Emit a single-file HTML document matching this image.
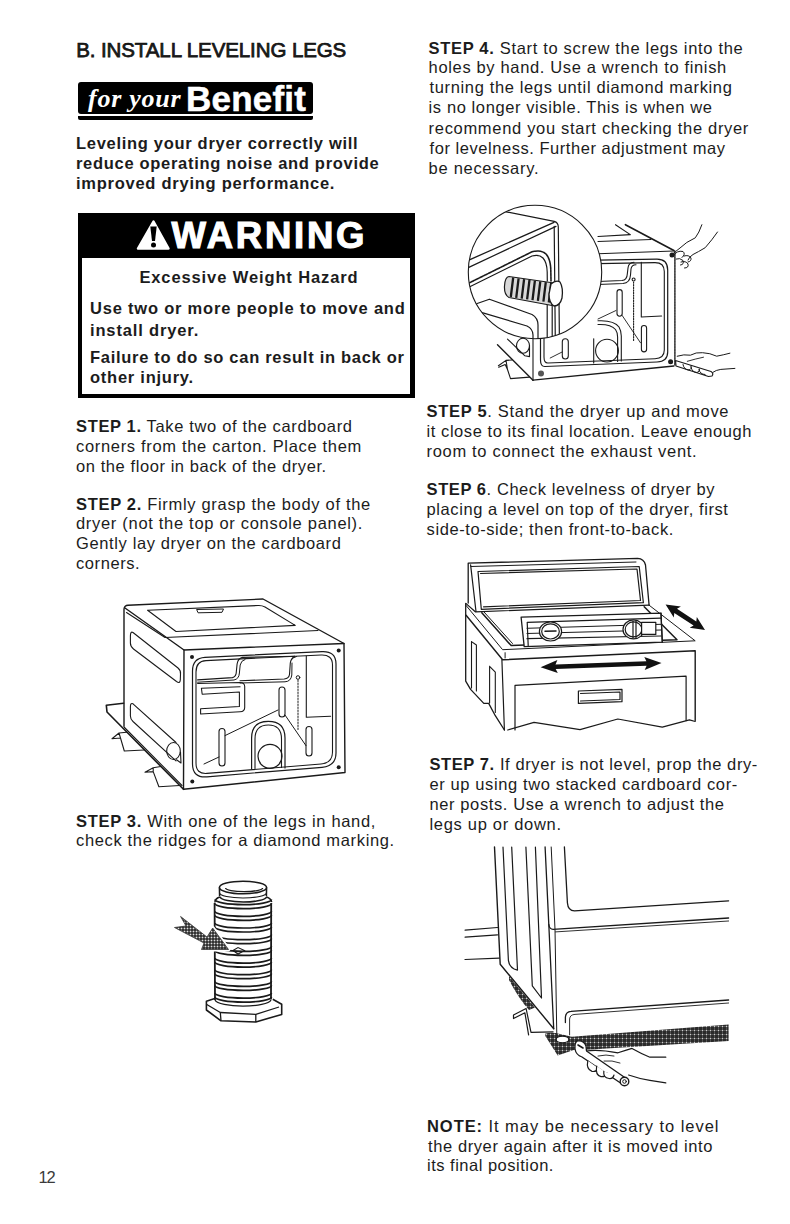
<!DOCTYPE html>
<html><head><meta charset="utf-8"><style>
html,body{margin:0;padding:0;background:#fff;width:790px;height:1224px;overflow:hidden}
body{position:relative;font-family:"Liberation Sans",sans-serif;color:#1c1c1c}
.ln{position:absolute;white-space:nowrap;line-height:1}
.ln b{font-weight:700}
svg{position:absolute;overflow:visible}
</style></head><body>
<div style="position:absolute;left:78px;top:81.7px;width:235px;height:32px;background:#000;border-radius:3px"></div>
<div style="position:absolute;left:78px;top:115.8px;width:235px;height:4px;background:#000;border-radius:0 0 2px 2px"></div>
<div id="fy" class="ln" style="left:88px;top:86px;font-family:'Liberation Serif',serif;font-style:italic;font-weight:700;font-size:26px;letter-spacing:0.75px;color:#fff">for your</div>
<div id="bn" class="ln" style="left:186px;top:80.8px;font-weight:700;font-size:35px;color:#fff;letter-spacing:0.2px;-webkit-text-stroke:0.5px #fff">Benefit</div>

<div style="position:absolute;left:77.6px;top:213px;width:337.4px;height:184.6px;box-sizing:border-box;border:4px solid #000;border-right-width:5px;border-top:0"></div>
<div style="position:absolute;left:77.6px;top:213px;width:337.4px;height:45px;background:#000"></div>
<svg style="left:0;top:0" width="790" height="400" viewBox="0 0 790 400">
<path d="M153.5 221.5 L168.5 248.5 L138 248.5 Z" fill="#fff" stroke="#fff" stroke-width="2.5" stroke-linejoin="round"/>
<path d="M150.3 226.5 L156.7 226.5 L155 241 L152 241 Z" fill="#000"/>
<circle cx="153.5" cy="245" r="2.5" fill="#000"/>
</svg>
<div id="wn" class="ln" style="left:171.5px;top:218.3px;font-weight:700;font-size:36.5px;color:#fff;letter-spacing:2.75px;-webkit-text-stroke:1.1px #fff">WARNING</div>

<svg style="left:0;top:0" width="790" height="1224" viewBox="0 0 790 1224">
<g fill="none" stroke="#1a1a1a" stroke-width="1.4" stroke-linejoin="round" stroke-linecap="round">
<!-- top face -->
<path d="M124,726.6 L124,609 Q124.5,605.5 128,605.3 L263,599 L344,643.5 L345,772.5 L183.5,789.3"/>
<path d="M125,608 L184,650 L344,643.5"/>
<path d="M184,650 L183.5,789.3"/>
<path d="M126.5,612.5 L165,637.5 L318,630.5" stroke-width="1.1"/>
<!-- lid -->
<path d="M147.6,610.2 L258,605.5 Q262,605.3 265,607 L295.2,625.4 L176,631.5 Z" stroke-width="1.1"/>
<path d="M197,609.5 L223.5,609 L222,612.3 L198.5,612.8 Z" stroke-width="1"/>
<!-- side recesses -->
<path d="M133,632.5 L178,668 Q181,670.5 180.5,674 L180.3,680 Q180,684 176.5,681.5 L133.5,649 Q130.4,646.7 130.4,643 L130.4,636 Q130.4,631 133,632.5 Z" stroke-width="1.1"/>
<path d="M133,703.8 L176,742.5 M130.4,707 Q130.4,702.5 133,703.8 M130.4,707 L130.4,716 Q130.4,719 133,721.5 L176,760.8" stroke-width="1.1"/>
<ellipse cx="173.5" cy="751" rx="6.8" ry="8.5" stroke-width="1.1"/>
<path d="M176.5,759.8 L181,763 L180.5,752" stroke-width="1.1"/>
<!-- cardboard strip -->
<path d="M123.5,703.2 L106.3,705.2 L107,712 L183.5,789.3" stroke-width="1.6"/>
<path d="M124.5,727.5 L182,785.5" stroke-width="1.1"/>
<!-- cardboard corners -->
<path d="M126.6,732.3 L119,733 L112,738.7 L120.5,738 L124.3,751 L144.3,750 M119,733 L120.5,738" stroke-width="1.1"/>
<path d="M160.8,766.5 L153.2,767.8 L145,772.2 L153.2,771.6 L158.9,786.8 L179.7,785.5 M153.2,767.8 L153.2,771.6" stroke-width="1.1"/>
<!-- front frame -->
<path d="M192.5,671 Q192.5,658 205,657.3 L322,651.6 Q336,651 336,664 L336,753 Q336,766 322,767.3 L207,776.8 Q192.5,778 192.5,764 Z" stroke-width="1.2"/>
<path d="M196,672 Q196,661 206,660.6 L321,655 Q332.5,654.5 332.5,665 L332.5,752 Q332.5,763 321,764 L207,773.4 Q196,774.3 196,763 Z" stroke-width="1.1"/>
<!-- rib -->
<path d="M197.6,679.9 L232.5,677.6 Q236.3,676.5 236.3,672 L237.1,664 Q238,658.5 242.4,657.4 L294.8,656.2 Q290.8,658.5 290.3,663 L289.5,674.5 Q289,678.5 284.2,679 L240,680.8" stroke-width="1.1"/>
<path d="M197.6,682.2 L234,680 Q239,679 239.4,673 L240.2,665 Q241,660.5 245,659.5 M292,659 Q293,657.5 296.5,656.5 M292,663 L291.8,675 Q291,681.5 285,681.8 L240.1,683" stroke-width="1"/>
<!-- pockets -->
<path d="M197.6,683.5 L240.1,682.5 Q244.7,682.7 244.7,686.5 L244.7,707.5 Q244.7,711.5 240,711.8 L200.6,714 L200.6,708.8 L239.4,706.5 L239.4,692 L202.2,694.3 L201.4,688.3 L240.1,686.7" stroke-width="1.1"/>
<!-- right region -->
<path d="M306.3,656 L306.3,717.3 L330.6,716.3" stroke-width="1.1"/>
<path d="M298,680 L298,730" stroke-width="1" stroke-dasharray="1.5 1.5"/>
<circle cx="298" cy="677.5" r="1.8" stroke-width="1"/>
<!-- pills -->
<rect x="279" y="687" width="6" height="30" rx="3" stroke-width="1.1"/>
<rect x="219" y="728.5" width="6" height="37.5" rx="3" stroke-width="1.1"/>
<rect x="306" y="726.5" width="6" height="29.5" rx="3" stroke-width="1.1"/>
<!-- thin lines -->
<path d="M204,764 L219,757 M225,735.6 L278,710 M285,715 L306,745.7" stroke-width="1"/>
<!-- arch -->
<path d="M251.6,769 L251.6,738 Q251.6,721.4 268.3,721.4 Q285,721.4 285,738 L285,768" stroke-width="1.2"/>
<path d="M255,768.5 L255,739 Q255,725 268.3,725 Q281.5,725 281.5,739 L281.5,767.5" stroke-width="1.1"/>
<circle cx="270" cy="756.3" r="12" stroke-width="1.2"/>
</g>
<g fill="#1a1a1a">
<circle cx="192" cy="657" r="2"/><circle cx="338.7" cy="650.4" r="2"/><circle cx="192.3" cy="781.5" r="2"/><circle cx="338.7" cy="767.2" r="2"/>
</g>
</svg>

<svg style="left:0;top:0" width="790" height="1224" viewBox="0 0 790 1224">
<defs><pattern id="ht2" width="3" height="3" patternUnits="userSpaceOnUse"><rect width="3" height="3" fill="#333"/><rect x="1" y="0" width="1" height="3" fill="#666"/><rect x="0" y="1" width="3" height="1" fill="#666"/><rect x="1" y="1" width="1" height="1" fill="#ddd"/></pattern></defs>
<g fill="none" stroke="#1a1a1a" stroke-width="1.5" stroke-linejoin="round">
<!-- cap -->
<ellipse cx="243" cy="887.5" rx="23.6" ry="6.3"/>
<path d="M225.6,888 A18.5,3.6 0 0 0 262.6,888" stroke-width="1.3"/>
<path d="M219.4,887.5 L219.6,896 M266.6,887.5 L266.4,896"/>
<path d="M219.6,893 A23.4,5 0 0 0 266.4,893" stroke-width="1.2"/>
<path d="M214.8,902.5 Q215.5,898 220,897 A23.4,5.5 0 0 0 266.6,897 Q271,898.5 271.7,902"/>
<path d="M214.6,903 L215,1000 M271.2,903 L271,999.5" stroke-width="1.8"/>
<path d="M215.0,899.6 A28.2,5 0 0 0 271.5,899.6" stroke-width="1.7"/>
<path d="M215.0,903.6 A28.2,5 0 0 0 271.5,903.6" stroke-width="1.7"/>
<path d="M215.0,911.3 A28.2,5 0 0 0 271.5,911.3" stroke-width="1.7"/>
<path d="M215.0,915.3 A28.2,5 0 0 0 271.5,915.3" stroke-width="1.7"/>
<path d="M215.0,923.0 A28.2,5 0 0 0 271.5,923.0" stroke-width="1.7"/>
<path d="M215.0,927.0 A28.2,5 0 0 0 271.5,927.0" stroke-width="1.7"/>
<path d="M215.0,934.7 A28.2,5 0 0 0 271.5,934.7" stroke-width="1.7"/>
<path d="M215.0,938.7 A28.2,5 0 0 0 271.5,938.7" stroke-width="1.7"/>
<path d="M215.0,946.4 A28.2,5 0 0 0 271.5,946.4" stroke-width="1.7"/>
<path d="M215.0,950.4 A28.2,5 0 0 0 271.5,950.4" stroke-width="1.7"/>
<path d="M215.0,958.1 A28.2,5 0 0 0 271.5,958.1" stroke-width="1.7"/>
<path d="M215.0,962.1 A28.2,5 0 0 0 271.5,962.1" stroke-width="1.7"/>
<path d="M215.0,969.7 A28.2,5 0 0 0 271.5,969.7" stroke-width="1.7"/>
<path d="M215.0,973.7 A28.2,5 0 0 0 271.5,973.7" stroke-width="1.7"/>
<path d="M215.0,981.4 A28.2,5 0 0 0 271.5,981.4" stroke-width="1.7"/>
<path d="M215.0,985.4 A28.2,5 0 0 0 271.5,985.4" stroke-width="1.7"/>
<path d="M215.0,993.1 A28.2,5 0 0 0 271.5,993.1" stroke-width="1.7"/>
<path d="M215.0,997.1 A28.2,5 0 0 0 271.5,997.1" stroke-width="1.7"/>
<!-- hex nut -->
<path d="M214.8,998.6 L206.4,1001.2 L206.4,1010 L221,1020.8 L255.8,1022 L281.7,1014.4 L281.7,1004.3 L272.8,999.2" stroke-width="1.6"/>
<path d="M206.8,1004.5 L220.3,1012.5 L255.8,1014.4 L279,1007" stroke-width="1.3"/>
<path d="M220.3,1012.5 L221,1020.8 M255.8,1014.4 L255.8,1022" stroke-width="1.3"/>
<path d="M215,1000 A28.2,7 0 0 0 271,1000" stroke-width="1.3"/>
</g>
<!-- arrow -->
<path d="M180.6,916.5 L207,937 L212.7,928 L228.5,949.5 L201.5,949.5 L204,943 L174.5,927.5 L186,926 Z" fill="#fff" stroke="#fff" stroke-width="4" stroke-linejoin="round"/>
<path d="M180.6,916.5 L207,937 L212.7,928 L228.5,949.5 L201.5,949.5 L204,943 L174.5,927.5 L186,926 Z" fill="url(#ht2)" stroke="#333" stroke-width="0.8"/>
<path d="M233,950.5 L238,947.5 L244.5,950.5 L238,954 Z" fill="none" stroke="#1a1a1a" stroke-width="1.1"/>
</svg>
<svg style="left:0;top:0" width="790" height="1224" viewBox="0 0 790 1224">
<defs><clipPath id="mag"><circle cx="535" cy="272" r="66.7"/></clipPath></defs>
<g fill="none" stroke="#1a1a1a" stroke-width="1.1" stroke-linejoin="round" stroke-linecap="round">
<!-- outside: top of dryer -->
<path d="M625.4,224.7 L673.9,250.5" stroke-width="1.6"/>
<path d="M615.5,224.7 L630.3,234.6 L598,236.5"/>
<path d="M598,241.5 L650.9,239.5"/>
<path d="M598,253.8 L673.9,251"/>
<path d="M674.9,251 L674.9,365.5" stroke-width="1.4" stroke-dasharray="2 0.8"/>
<!-- frame -->
<path d="M598,260.2 L657,259.2 Q667.7,259.2 667.7,270 L667.7,352 Q667.7,361.5 657,362 L545,366.5 Q540.5,366.7 540.5,360 L540.5,338" stroke-width="1.2"/>
<path d="M598,263.6 L655,262.6 Q664.3,262.6 664.3,271.5 L664.3,350 Q664.3,358.3 655,358.7 L548,363 Q544,363.2 544,357 L544,338"/>
<!-- rib -->
<path d="M598,281.5 L622,280.5 Q627,280 627.3,274 L628,268 Q628.5,262.5 634,262.3"/>
<path d="M598,284.5 L623,283.5 Q630,283 630.5,275 L631,269 Q631.5,265 636,264.8"/>
<path d="M641.3,262.3 L641.3,317 L661.6,316"/>
<path d="M633.6,282 L633.6,340.7" stroke-dasharray="1.3 1.3"/>
<circle cx="633.6" cy="279.5" r="1.5"/>
<rect x="617" y="289.6" width="5.2" height="26.6" rx="2.6"/>
<rect x="641.4" y="325.5" width="5.2" height="26.4" rx="2.6"/>
<path d="M598,319 L616,310.5 M622.2,315.5 L640.5,342.8" stroke-width="0.9"/>
<path d="M598,320.8 Q614,320 619,327 Q621.3,331 621.3,336 L621.3,361" />
<path d="M598,324.5 Q611,324 615.5,329.5 Q617.6,332.5 617.6,337 L617.6,361.5"/>
<circle cx="607" cy="350.6" r="11.4"/>
<path d="M593.7,338.7 L593.7,363"/>
<rect x="562.3" y="338.7" width="6" height="20.3" rx="3"/>
<path d="M550.2,358 L562.3,351.9" stroke-width="0.9"/>
<!-- bottom edge -->
<path d="M533,380.2 L673.9,366" stroke-width="1.3"/>
<path d="M533,338.7 L533,380.2" />
<path d="M497.5,344.8 L533,380.2" stroke-width="1.4"/>
<path d="M507.5,339.1 L524.9,355.8 L529.5,356.6 L529.5,345.2"/>
<ellipse cx="523" cy="345.8" rx="6.5" ry="7.5"/>
<path d="M498.4,365.7 L506,360.4 L512,360 M498.7,367.2 L505.2,364.5 L507.5,369.5 L510.5,378.6 L529.5,377.1 M506,360.4 L507.5,369.5"/>
<!-- hand top -->
<path d="M701.9,224.7 Q699,233 695.3,237.8 Q686,242 680,248 Q675,252 672.5,254" stroke-width="1"/>
<path d="M717.5,232 Q712,240 705.2,247.7 Q698,252 693,254.5 Q689,257 688,260" stroke-width="1"/>
<path d="M673,256 Q677,250 683,251.5 Q686,254 682,257.5 M676,259 Q680,257.5 683,260.5 Q684.5,264.5 680.5,265 M681,262 Q686,260.5 688,264 Q689,268 684.5,268 M684,256 Q689,254.5 691,258 Q691.5,261.5 688,262" stroke-width="1"/>
<!-- hand bottom with wrench -->
<path d="M677.2,356.2 Q684,354 690.4,355.2 Q696,352 702.5,352.7 Q710,353 716.7,356.2 Q723,355 729.9,353.2" stroke-width="1"/>
<path d="M712.7,372.4 Q716,370 720.8,369.4 L734.9,368.4" stroke-width="1"/>
<path d="M675.5,360.5 L711,371.5 Q714,373.5 712,376 L708.5,376.5 L676,366 Z" fill="#fff" stroke-width="1.2"/>
<path d="M683,364.5 Q684,370 689,370 Q692,369 691,366 M691,367 Q692,372.5 697,372.5 Q700,372 699.5,369 M699,369.5 Q700,374.5 705,374.5" stroke-width="1"/>
<path d="M687.3,361.3 Q695,359 703.5,357.2" stroke-width="0.9"/>
</g>
<g fill="#1a1a1a"><circle cx="541" cy="373.5" r="3" fill="#555"/><circle cx="670.6" cy="361.8" r="2.5"/><circle cx="672" cy="255" r="2.5"/></g>
<!-- magnifier -->
<circle cx="535" cy="272" r="66.7" fill="#fff" stroke="#1a1a1a" stroke-width="1.1"/>
<g clip-path="url(#mag)" fill="none" stroke="#1a1a1a" stroke-width="1.2" stroke-linejoin="round" stroke-linecap="round">
<path d="M503.6,211.3 L554.2,221.4 Q558.3,222.5 558.3,227 L559.4,340"/>
<path d="M554.2,226.4 L555.3,340"/>
<path d="M554,222.4 L460,264" stroke-width="1.3"/>
<path d="M556,226.4 L460,271.5"/>
<path d="M460,287.5 L532,251.8 Q541,249.5 546,254 Q550.5,259 550.8,270 L551,281" stroke-width="1.6" stroke-dasharray="2.5 0.7"/>
<path d="M460,291.5 L532,256 Q539,254 543,258 Q547,262.5 547.2,272 L547.3,281"/>
<path d="M470,306 L489.4,299.2 L532,314.5 Q538,318 538,325 L538,345"/>
<path d="M470,314.5 L481.3,312.4 L527,326 Q533,329 533,335 L533,345"/>
<path d="M547.2,305 L547.2,345 M552.2,305 L552.2,345"/>
</g>
<!-- leg in magnifier -->
<g stroke="#1a1a1a" stroke-linejoin="round">
<path d="M509,276.5 L554,283 L552,305.5 L509,297.5 Q504,295 504.5,286 Q505,277 509,276.5 Z" fill="#d8d8d8" stroke-width="1.2"/>
<path d="M513.2,277.5 L510.8,297.0 M518.6,278.3 L516.2,297.8 M524.1,279.1 L521.7,298.6 M529.5,279.9 L527.1,299.4 M534.9,280.6 L532.5,300.1 M540.3,281.4 L537.9,300.9 M545.8,282.2 L543.4,301.7 M551.2,283.0 L548.8,302.5" stroke-width="2.3" fill="none"/>
<path d="M551,284 Q556,279.5 560,282 Q563.5,288 562,298 Q560,306 554,306 Q549,303 549,294 Z" fill="#fff" stroke-width="1.3"/>
</g>
</svg>

<svg style="left:0;top:0" width="790" height="1224" viewBox="0 0 790 1224">
<g fill="none" stroke="#1a1a1a" stroke-width="1.2" stroke-linejoin="round" stroke-linecap="round">
<!-- console -->
<path d="M468.2,603 L468.2,563.2 L637.6,558.3 Q644,558.5 645.5,565 L649.1,605.2" stroke-width="1.3"/>
<path d="M470.6,564.9 L476,611.5"/>
<path d="M471,566.5 L636,562" stroke-width="1"/>
<path d="M478,571.5 L639.2,566.5 L643.4,602.7 L481.3,609.3 Z"/>
<path d="M480.5,573.5 L637,569 L640.5,600.5 L483.5,606.8"/>
<path d="M475.6,611.8 L649.1,605.2"/>
<!-- body top -->
<path d="M465.7,603.5 L465.7,681.1 L470.6,689.4 L483.8,703.4 L488.7,703.4 L495.3,715.7 L504.4,730" stroke-width="1.3"/>
<path d="M466.1,615.3 L502.6,659.8 L695.2,650.7 L695.2,720.6" stroke-width="1.4"/>
<path d="M466.1,605.5 L502.6,649.7 L695.2,640.8 L649.1,605.2" stroke-width="1"/>
<path d="M466.1,603.6 L475.3,611.7"/>
<path d="M481.8,612.7 L511.2,645.6 L677,639.7 L644.2,606.8" stroke-width="1.5"/>
<path d="M484.3,612.3 L512.5,643.5" stroke-width="1"/>
<path d="M505.1,652.7 L505.1,658" stroke-width="1"/>
<path d="M501.9,659.7 L504.4,730"/>
<!-- side recesses -->
<path d="M471.5,641.6 L476.4,645 L476.4,691 M471.5,641.6 L471.5,688" stroke-width="1.1"/>
<path d="M489.6,666.3 L495.3,672.1 L495.3,712.4 M489.6,666.3 L489.6,703" stroke-width="1.1"/>
<!-- drawer -->
<path d="M515,730 L515,685.3 L686.1,676.2 L686.1,720.6"/>
<path d="M578.4,691 L622,689.4 L622,701.7 L578.4,703.4 Z"/>
<path d="M580.5,693.5 L620,692 L620,699.5 L580.5,701"/>
<path d="M507.7,730 L534,722.3 L580,729.7 L617.8,719 L662.3,727.2 L689.4,719.8 L695.2,721.5"/>
<!-- level -->
<path d="M521.1,617.2 L661,613.2 L662.3,642.2 L524.2,646.6 Z" fill="#fff" stroke-width="1.3"/>
<path d="M527.2,622.3 L661,618.2 M528.2,645.6 L527.2,622.3 M527,638.7 L661,636"/>
<path d="M527,628.3 L661,624.3 M527,633.5 L661,630" stroke-width="1"/>
<ellipse cx="550.5" cy="631.4" rx="11.1" ry="9.6" fill="#fff"/>
<ellipse cx="550.5" cy="631.4" rx="8.8" ry="7.6"/>
<path d="M545,631.3 L556,631" stroke-width="1.5"/>
<ellipse cx="633.5" cy="629.4" rx="10.5" ry="9.5" fill="#fff"/>
<ellipse cx="633.5" cy="629.4" rx="8.3" ry="7.5"/>
<path d="M633,621 L633,638 M636,621 L636,638"/>
<rect x="641.6" y="622.3" width="14.2" height="12.1" fill="#fff"/>
<path d="M661,613.2 L662.3,642.2"/>
</g>
<!-- arrows -->
<g fill="#111">
<path d="M540.6,667.2 L557.8,673.1 L555.7,668.9 L646.6,665.8 L644.7,670.1 L661.5,663.0 L644.3,657.1 L646.4,661.3 L555.5,664.4 L557.4,660.1 Z"/>
<path d="M665.6,604.4 L673.8,617.5 L674.3,613.0 L693.6,625.6 L689.7,627.8 L705.0,630.0 L696.8,616.9 L696.3,621.4 L677.0,608.8 L680.9,606.6 Z"/>
</g>
</svg>

<svg style="left:0;top:0" width="790" height="1224" viewBox="0 0 790 1224">
<defs>
<pattern id="ht" width="4" height="4" patternUnits="userSpaceOnUse">
<rect width="4" height="4" fill="#2a2a2a"/><rect x="2" y="0" width="1" height="4" fill="#555"/><rect x="0" y="2" width="4" height="1" fill="#555"/><rect x="2" y="2" width="1" height="1" fill="#ccc"/>
</pattern>
</defs>
<!-- shadow -->
<path d="M545.3,1036 L557.7,1055.4 L573.7,1050.1 L590,1049.5 L728.6,1041 L728.6,1024.4 L571.9,1036.8 L560,1034 Q552,1032 545.3,1033.5 Z" fill="url(#ht)"/>
<path d="M509,976 L535,1007.5 L529,1010 Q519,999 509,980 Z" fill="url(#ht)"/>
<g fill="none" stroke="#1a1a1a" stroke-width="1.2" stroke-linejoin="round" stroke-linecap="round">
<path d="M494.5,847 L500.2,964.3 L553.7,1028.7" stroke-width="1.4"/>
<path d="M503,847 L508.4,960.3 Q509.5,968.4 517.5,970.2 L511.7,847" />
<path d="M525.9,847 L532.3,985.8 L541.5,998 L535.4,847"/>
<path d="M545.1,847 L548.8,924.5 Q549.5,929.4 553.1,929.4 L728.6,918" stroke-width="1.3"/>
<path d="M548.8,924.5 L553.7,1028.7" stroke-width="1.3"/>
<path d="M551.2,847 L555,929.4 L556.8,1034.9" stroke-width="1"/>
<path d="M555.5,931.9 L728.6,921" stroke-width="0.9"/>
<path d="M564.4,847 L567.4,902.8 Q568,910.9 574.5,910.9 L728.6,900.8" stroke-width="1.3"/>
<path d="M465.1,930.1 L497.5,927.5 M465.1,937.2 L497.5,934.8"/>
<path d="M465,959.5 L499.2,958.2" />
<!-- bottom panel recess -->
<path d="M565.4,1022.6 L565.4,1017 Q566,1011.6 571,1011.4 L728.6,1000" stroke-width="1.3"/>
<path d="M569.6,1034.9 L569.6,1019 Q570,1014.6 575,1014.4 L728.6,1003" stroke-width="0.9"/>
<!-- cardboard post -->
<path d="M513.5,1015 L526.1,1008.5 L531,1032.4 L553.1,1031.8 M513.5,1018.5 L524.9,1012.8 L528.6,1034.9 M513.5,1015 L513.5,1018.5" fill="#fff"/>
<!-- foot -->

<ellipse cx="562.5" cy="1039.5" rx="6.3" ry="3.3" fill="#fff"/>
<!-- hand back -->
<path d="M586,1051 Q598,1049 618,1052.8 Q626,1050 632,1048.4 Q642,1054 649.9,1057.2 L665.8,1057.2" fill="#fff"/>
<path d="M628.6,1075 Q640,1079 649.9,1080.3 L665.8,1082.9"/>
<!-- wrench -->
<path d="M577,1041 Q584,1040 586,1046 L586.5,1051 L625.5,1078 L622,1084 L582,1057 Q576,1055 575,1049 Q574.5,1043 577,1041 Z" fill="#fff" stroke-width="1.3"/>
<path d="M578,1045 L583,1048" stroke-width="1.6"/>
<circle cx="624.5" cy="1081.5" r="4.3" fill="#fff" stroke-width="1.4"/>
<circle cx="624.5" cy="1081.5" r="1.8" stroke-width="1"/>
<!-- fingers -->
<path d="M587.8,1060.8 Q586,1069 592,1071.4 Q597,1072 598,1068" fill="#fff"/>
<path d="M596.7,1066 Q595,1075 601,1076.7 Q606,1077 607,1073" fill="#fff"/>
<path d="M603.8,1071.4 Q603,1078 609,1078.5 Q613,1079 614,1075" fill="#fff"/>
<path d="M598,1056 Q606,1054 614,1056 M604,1061 Q612,1060 620,1063" stroke-width="0.9"/>
</g>
</svg>

<div class="ln" style="left:76.20px;top:39.67px;font-size:20.5px;font-weight:400;letter-spacing:-0.096px;-webkit-text-stroke:0.75px #111">B. INSTALL LEVELING LEGS</div>
<div class="ln" style="left:76.00px;top:134.57px;font-size:16.5px;font-weight:700;letter-spacing:0.697px;">Leveling your dryer correctly will</div>
<div class="ln" style="left:76.00px;top:154.57px;font-size:16.5px;font-weight:700;letter-spacing:0.697px;">reduce operating noise and provide</div>
<div class="ln" style="left:76.00px;top:174.57px;font-size:16.5px;font-weight:700;letter-spacing:0.741px;">improved drying performance.</div>
<div class="ln" style="left:139.40px;top:269.38px;font-size:16.5px;font-weight:700;letter-spacing:0.891px;">Excessive Weight Hazard</div>
<div class="ln" style="left:90.00px;top:299.98px;font-size:16.5px;font-weight:700;letter-spacing:0.788px;">Use two or more people to move and</div>
<div class="ln" style="left:90.00px;top:321.98px;font-size:16.5px;font-weight:700;letter-spacing:0.846px;">install dryer.</div>
<div class="ln" style="left:90.00px;top:348.98px;font-size:16.5px;font-weight:700;letter-spacing:0.703px;">Failure to do so can result in back or</div>
<div class="ln" style="left:90.00px;top:368.98px;font-size:16.5px;font-weight:700;letter-spacing:0.75px;">other injury.</div>
<div class="ln" style="left:76.00px;top:417.58px;font-size:16.5px;font-weight:400;letter-spacing:0.647px;"><b>STEP 1.</b> Take two of the cardboard</div>
<div class="ln" style="left:76.00px;top:437.58px;font-size:16.5px;font-weight:400;letter-spacing:0.676px;">corners from the carton. Place them</div>
<div class="ln" style="left:76.00px;top:457.58px;font-size:16.5px;font-weight:400;letter-spacing:0.576px;">on the floor in back of the dryer.</div>
<div class="ln" style="left:76.00px;top:495.58px;font-size:16.5px;font-weight:400;letter-spacing:0.686px;"><b>STEP 2.</b> Firmly grasp the body of the</div>
<div class="ln" style="left:76.00px;top:515.38px;font-size:16.5px;font-weight:400;letter-spacing:0.694px;">dryer (not the top or console panel).</div>
<div class="ln" style="left:76.00px;top:535.38px;font-size:16.5px;font-weight:400;letter-spacing:0.625px;">Gently lay dryer on the cardboard</div>
<div class="ln" style="left:76.00px;top:555.38px;font-size:16.5px;font-weight:400;letter-spacing:0.571px;">corners.</div>
<div class="ln" style="left:76.00px;top:812.58px;font-size:16.5px;font-weight:400;letter-spacing:0.681px;"><b>STEP 3.</b> With one of the legs in hand,</div>
<div class="ln" style="left:76.00px;top:832.38px;font-size:16.5px;font-weight:400;letter-spacing:0.65px;">check the ridges for a diamond marking.</div>
<div class="ln" style="left:428.60px;top:39.58px;font-size:16.5px;font-weight:400;letter-spacing:0.677px;"><b>STEP 4.</b> Start to screw the legs into the</div>
<div class="ln" style="left:428.60px;top:59.38px;font-size:16.5px;font-weight:400;letter-spacing:0.65px;">holes by hand. Use a wrench to finish</div>
<div class="ln" style="left:429.60px;top:79.38px;font-size:16.5px;font-weight:400;letter-spacing:0.632px;">turning the legs until diamond marking</div>
<div class="ln" style="left:428.60px;top:99.47px;font-size:16.5px;font-weight:400;letter-spacing:0.594px;">is no longer visible. This is when we</div>
<div class="ln" style="left:428.60px;top:119.57px;font-size:16.5px;font-weight:400;letter-spacing:0.686px;">recommend you start checking the dryer</div>
<div class="ln" style="left:429.60px;top:139.57px;font-size:16.5px;font-weight:400;letter-spacing:0.539px;">for levelness. Further adjustment may</div>
<div class="ln" style="left:428.60px;top:159.97px;font-size:16.5px;font-weight:400;letter-spacing:0.7px;">be necessary.</div>
<div class="ln" style="left:426.60px;top:402.58px;font-size:16.5px;font-weight:400;letter-spacing:0.688px;"><b>STEP 5</b>. Stand the dryer up and move</div>
<div class="ln" style="left:426.60px;top:422.98px;font-size:16.5px;font-weight:400;letter-spacing:0.556px;">it close to its final location. Leave enough</div>
<div class="ln" style="left:426.60px;top:442.58px;font-size:16.5px;font-weight:400;letter-spacing:0.669px;">room to connect the exhaust vent.</div>
<div class="ln" style="left:426.60px;top:480.98px;font-size:16.5px;font-weight:400;letter-spacing:0.571px;"><b>STEP 6</b>. Check levelness of dryer by</div>
<div class="ln" style="left:426.60px;top:500.98px;font-size:16.5px;font-weight:400;letter-spacing:0.571px;">placing a level on top of the dryer, first</div>
<div class="ln" style="left:426.60px;top:520.98px;font-size:16.5px;font-weight:400;letter-spacing:0.575px;">side-to-side; then front-to-back.</div>
<div class="ln" style="left:429.40px;top:755.98px;font-size:16.5px;font-weight:400;letter-spacing:0.595px;"><b>STEP 7.</b> If dryer is not level, prop the dry-</div>
<div class="ln" style="left:429.40px;top:775.98px;font-size:16.5px;font-weight:400;letter-spacing:0.611px;">er up using two stacked cardboard cor-</div>
<div class="ln" style="left:429.40px;top:795.98px;font-size:16.5px;font-weight:400;letter-spacing:0.617px;">ner posts. Use a wrench to adjust the</div>
<div class="ln" style="left:429.40px;top:815.98px;font-size:16.5px;font-weight:400;letter-spacing:0.707px;">legs up or down.</div>
<div class="ln" style="left:427.00px;top:1117.57px;font-size:16.5px;font-weight:400;letter-spacing:0.939px;"><b>NOTE:</b> It may be necessary to level</div>
<div class="ln" style="left:428.00px;top:1137.97px;font-size:16.5px;font-weight:400;letter-spacing:0.595px;">the dryer again after it is moved into</div>
<div class="ln" style="left:427.00px;top:1156.97px;font-size:16.5px;font-weight:400;letter-spacing:0.5px;">its final position.</div>
<div class="ln" style="left:38.50px;top:1168.67px;font-size:16.5px;font-weight:400;letter-spacing:-1.3px;color:#3a3a3a">12</div>
</body></html>
